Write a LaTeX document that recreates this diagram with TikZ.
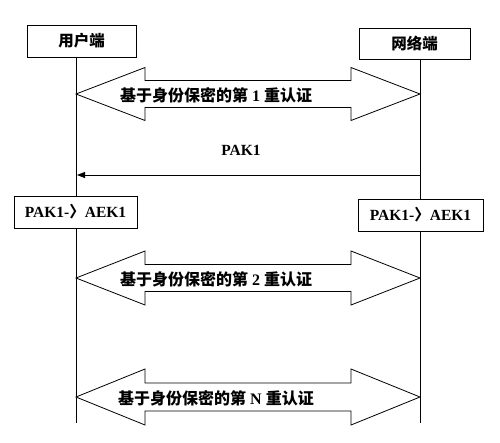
\documentclass[tikz,border=0pt]{standalone}
\usepackage{fontspec}
\setmainfont{Liberation Serif}
\newfontfamily\cjk{Noto Sans CJK SC}
\usetikzlibrary{arrows.meta}
\usetikzlibrary{positioning}

\tikzset{
	hdr/.style={draw, fill=white, line width=0.8pt, inner sep=0pt, font=\bfseries\fontsize{15.5}{18}\selectfont},
	authbar/.style={draw, fill=white, line width=0.8pt, line join=miter},
	authtext/.style={font=\bfseries\fontsize{16}{18}\selectfont},
	msgtext/.style={font=\bfseries\fontsize{15.5}{17}\selectfont},
}

\begin{document}
\begin{tikzpicture}[x=1pt, y=-1pt]
	\useasboundingbox (0,0) rectangle (500,442);
	% lifelines
	\coordinate (uTop) at (76,57);
	\coordinate (uEnd) at (76,423);
	\coordinate (nTop) at (420,59);
	\coordinate (nEnd) at (420,423);
	\draw[line width=0.8pt] (uTop) -- (uEnd);
	\draw[line width=0.8pt] (nTop) -- (nEnd);
	% header boxes
	\node[hdr, minimum width=109pt, minimum height=32pt] (user) at (81.5,41) {\cjk 用户端};
	\node[hdr, minimum width=111pt, minimum height=31pt] (net) at (414.5,43.5) {\cjk 网络端};
	% first authentication
	\coordinate (a1) at (76,94);
	\draw[authbar] (a1) -- ++(69,-26.5) -- ++(0,13) -- ++(206,0) -- ++(0,-13) -- ++(69,26.5)
		-- ++(-69,26.5) -- ++(0,-13) -- ++(-206,0) -- ++(0,13) -- cycle;
	\node[authtext] (t1) at (216,95) {{\cjk 基于身份保密的第}~1~{\cjk 重认证}};
	% key message
	\coordinate (pakS) at (420,175);
	\coordinate (pakE) at (77,175);
	\draw[line width=0.8pt, -{Triangle[length=8pt, width=6pt]}] (pakS) -- (pakE);
	\node[msgtext] (pak) at (241,150) {PAK1};
	% key derivation
	\node[hdr, msgtext, minimum width=123pt, minimum height=32pt] (ukey) at (75.5,212) {PAK1-{\cjk 〉}AEK1};
	\node[hdr, msgtext, minimum width=125pt, minimum height=32pt] (nkey) at (420.5,215) {PAK1-{\cjk 〉}AEK1};
	% second authentication
	\coordinate (a2) at (76,278);
	\draw[authbar] (a2) -- ++(69,-27) -- ++(0,13.5) -- ++(206,0) -- ++(0,-13.5) -- ++(69,27)
		-- ++(-69,27) -- ++(0,-13.5) -- ++(-206,0) -- ++(0,13.5) -- cycle;
	\node[authtext] (t2) at (216,279) {{\cjk 基于身份保密的第}~2~{\cjk 重认证}};
	% n-th authentication
	\coordinate (aN) at (76,397);
	\draw[authbar] (aN) -- ++(69,-28) -- ++(0,14) -- ++(206,0) -- ++(0,-14) -- ++(69,28)
		-- ++(-69,28) -- ++(0,-14) -- ++(-206,0) -- ++(0,14) -- cycle;
	\node[authtext] (tN) at (216,398) {{\cjk 基于身份保密的第}~N~{\cjk 重认证}};
\end{tikzpicture}
\end{document}
